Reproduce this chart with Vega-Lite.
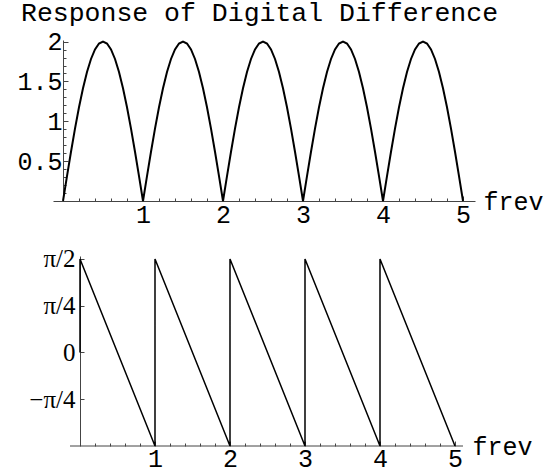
{
  "$schema": "https://vega.github.io/schema/vega-lite/v6.json",
  "padding": {"left": 16, "top": 0, "right": 0, "bottom": 0},
  "title": {
    "text": "Response of Digital Difference",
    "anchor": "start",
    "font": "Liberation Mono",
    "fontSize": 26.5,
    "fontWeight": "normal",
    "color": "black",
    "offset": 3,
    "dx": 4
  },
  "spacing": 55,
  "bounds": "flush",
  "config": {
    "view": {"stroke": null},
    "axis": {
      "grid": false,
      "domainColor": "#444",
      "domainWidth": 1,
      "tickColor": "#444",
      "tickWidth": 1,
      "labelColor": "black",
      "labelFont": "Liberation Mono",
      "labelFontSize": 25,
      "titleFont": "Liberation Mono",
      "titleFontSize": 25,
      "titleFontWeight": "normal",
      "titleColor": "black",
      "labelOverlap": false,
      "labelFlush": false
    }
  },
  "datasets": {
    "mag": [
      {"f":0,"m":0},{"f":0.05,"m":0.3129},{"f":0.1,"m":0.618},{"f":0.15,"m":0.908},{"f":0.2,"m":1.1756},{"f":0.25,"m":1.4142},{"f":0.3,"m":1.618},{"f":0.35,"m":1.782},{"f":0.4,"m":1.9021},{"f":0.45,"m":1.9754},
      {"f":0.5,"m":2},{"f":0.55,"m":1.9754},{"f":0.6,"m":1.9021},{"f":0.65,"m":1.782},{"f":0.7,"m":1.618},{"f":0.75,"m":1.4142},{"f":0.8,"m":1.1756},{"f":0.85,"m":0.908},{"f":0.9,"m":0.618},{"f":0.95,"m":0.3129},
      {"f":1,"m":0},{"f":1.05,"m":0.3129},{"f":1.1,"m":0.618},{"f":1.15,"m":0.908},{"f":1.2,"m":1.1756},{"f":1.25,"m":1.4142},{"f":1.3,"m":1.618},{"f":1.35,"m":1.782},{"f":1.4,"m":1.9021},{"f":1.45,"m":1.9754},
      {"f":1.5,"m":2},{"f":1.55,"m":1.9754},{"f":1.6,"m":1.9021},{"f":1.65,"m":1.782},{"f":1.7,"m":1.618},{"f":1.75,"m":1.4142},{"f":1.8,"m":1.1756},{"f":1.85,"m":0.908},{"f":1.9,"m":0.618},{"f":1.95,"m":0.3129},
      {"f":2,"m":0},{"f":2.05,"m":0.3129},{"f":2.1,"m":0.618},{"f":2.15,"m":0.908},{"f":2.2,"m":1.1756},{"f":2.25,"m":1.4142},{"f":2.3,"m":1.618},{"f":2.35,"m":1.782},{"f":2.4,"m":1.9021},{"f":2.45,"m":1.9754},
      {"f":2.5,"m":2},{"f":2.55,"m":1.9754},{"f":2.6,"m":1.9021},{"f":2.65,"m":1.782},{"f":2.7,"m":1.618},{"f":2.75,"m":1.4142},{"f":2.8,"m":1.1756},{"f":2.85,"m":0.908},{"f":2.9,"m":0.618},{"f":2.95,"m":0.3129},
      {"f":3,"m":0},{"f":3.05,"m":0.3129},{"f":3.1,"m":0.618},{"f":3.15,"m":0.908},{"f":3.2,"m":1.1756},{"f":3.25,"m":1.4142},{"f":3.3,"m":1.618},{"f":3.35,"m":1.782},{"f":3.4,"m":1.9021},{"f":3.45,"m":1.9754},
      {"f":3.5,"m":2},{"f":3.55,"m":1.9754},{"f":3.6,"m":1.9021},{"f":3.65,"m":1.782},{"f":3.7,"m":1.618},{"f":3.75,"m":1.4142},{"f":3.8,"m":1.1756},{"f":3.85,"m":0.908},{"f":3.9,"m":0.618},{"f":3.95,"m":0.3129},
      {"f":4,"m":0},{"f":4.05,"m":0.3129},{"f":4.1,"m":0.618},{"f":4.15,"m":0.908},{"f":4.2,"m":1.1756},{"f":4.25,"m":1.4142},{"f":4.3,"m":1.618},{"f":4.35,"m":1.782},{"f":4.4,"m":1.9021},{"f":4.45,"m":1.9754},
      {"f":4.5,"m":2},{"f":4.55,"m":1.9754},{"f":4.6,"m":1.9021},{"f":4.65,"m":1.782},{"f":4.7,"m":1.618},{"f":4.75,"m":1.4142},{"f":4.8,"m":1.1756},{"f":4.85,"m":0.908},{"f":4.9,"m":0.618},{"f":4.95,"m":0.3129},
      {"f":5,"m":0}
    ],
    "phase": [
      {"i":0,"f":0,"p":0},
      {"i":1,"f":0,"p":1.5708},
      {"i":2,"f":1,"p":-1.5708},
      {"i":3,"f":1,"p":1.5708},
      {"i":4,"f":2,"p":-1.5708},
      {"i":5,"f":2,"p":1.5708},
      {"i":6,"f":3,"p":-1.5708},
      {"i":7,"f":3,"p":1.5708},
      {"i":8,"f":4,"p":-1.5708},
      {"i":9,"f":4,"p":1.5708},
      {"i":10,"f":5,"p":-1.5708}
    ],
    "phaseAxisLine": [
      {"x1": -0.1333, "x2": 5.1067, "y": -1.5708}
    ]
  },
  "vconcat": [
    {
      "width": 422,
      "height": 161,
      "data": {"name": "mag"},
      "mark": {"type": "line", "color": "black", "strokeWidth": 2},
      "encoding": {
        "x": {
          "field": "f",
          "type": "quantitative",
          "scale": {"domain": [-0.125, 5.15], "nice": false, "zero": false},
          "axis": {
            "values": [0.2,0.4,0.6,0.8,1,1.2,1.4,1.6,1.8,2,2.2,2.4,2.6,2.8,3,3.2,3.4,3.6,3.8,4,4.2,4.4,4.6,4.8,5],
            "labelExpr": "datum.value % 1 === 0 ? '' + datum.value : ''",
            "tickSize": {"condition": {"test": "datum.value % 1 === 0", "value": -5}, "value": -3},
            "labelBaseline": "alphabetic",
            "labelPadding": 26,
            "labelOverlap": false,
            "title": "frev",
            "titleX": 430,
            "titleY": 8,
            "titleAlign": "left",
            "titleBaseline": "alphabetic"
          }
        },
        "y": {
          "field": "m",
          "type": "quantitative",
          "scale": {"domain": [0, 2.02], "nice": false},
          "axis": {
            "values": [0.1,0.2,0.3,0.4,0.5,0.6,0.7,0.8,0.9,1,1.1,1.2,1.3,1.4,1.5,1.6,1.7,1.8,1.9,2],
            "labelExpr": "datum.value * 2 % 1 === 0 ? '' + datum.value : ''",
            "tickSize": {"condition": {"test": "datum.value * 2 % 1 === 0", "value": -5}, "value": -3},
            "offset": -10,
            "labelPadding": 6,
            "labelBaseline": "middle",
            "labelOverlap": false,
            "title": null
          }
        }
      }
    },
    {
      "width": 410,
      "height": 190,
      "resolve": {"axis": {"x": "independent", "y": "independent"}},
      "layer": [
        {
          "data": {"name": "phaseAxisLine"},
          "mark": {"type": "rule", "color": "#444", "strokeWidth": 1},
          "encoding": {
            "x": {"field": "x1", "type": "quantitative", "scale": {"domain": [-0.36, 5.1067], "nice": false, "zero": false}, "axis": null},
            "x2": {"field": "x2"},
            "y": {"field": "y", "type": "quantitative", "scale": {"domain": [-1.5708, 1.621], "nice": false, "zero": false}, "axis": null}
          }
        },
        {
          "data": {"name": "phase"},
          "mark": {"type": "line", "color": "black", "strokeWidth": 1.5},
          "encoding": {
            "x": {
              "field": "f",
              "type": "quantitative",
              "scale": {"domain": [-0.36, 5.1067], "nice": false, "zero": false},
              "axis": {
                "orient": "bottom",
                "domain": false,
                "values": [0.2,0.4,0.6,0.8,1,1.2,1.4,1.6,1.8,2,2.2,2.4,2.6,2.8,3,3.2,3.4,3.6,3.8,4,4.2,4.4,4.6,4.8,5],
                "labelExpr": "datum.value % 1 === 0 ? '' + datum.value : ''",
                "tickSize": {"condition": {"test": "datum.value % 1 === 0", "value": -5}, "value": -3},
                "labelBaseline": "alphabetic",
                "labelPadding": 25,
                "labelOverlap": false,
                "labelFlush": false,
                "title": "frev",
                "titleX": 419,
                "titleY": 8,
                "titleAlign": "left",
                "titleBaseline": "alphabetic"
              }
            },
            "y": {
              "field": "p",
              "type": "quantitative",
              "scale": {"domain": [-1.5708, 1.621], "nice": false, "zero": false},
              "axis": {
                "orient": "left",
                "values": [-0.7854, 0, 0.7854, 1.5708],
                "labelExpr": "datum.value > 1 ? 'π/2' : datum.value > 0.5 ? 'π/4' : datum.value < -0.5 ? '−π/4' : '0'",
                "labelFont": "Liberation Serif",
                "labelFontSize": 25,
                "tickSize": -4,
                "offset": -27,
                "labelPadding": 9,
                "labelBaseline": "middle",
                "labelOverlap": false,
                "title": null
              }
            },
            "order": {"field": "i", "type": "quantitative"}
          }
        }
      ]
    }
  ]
}
